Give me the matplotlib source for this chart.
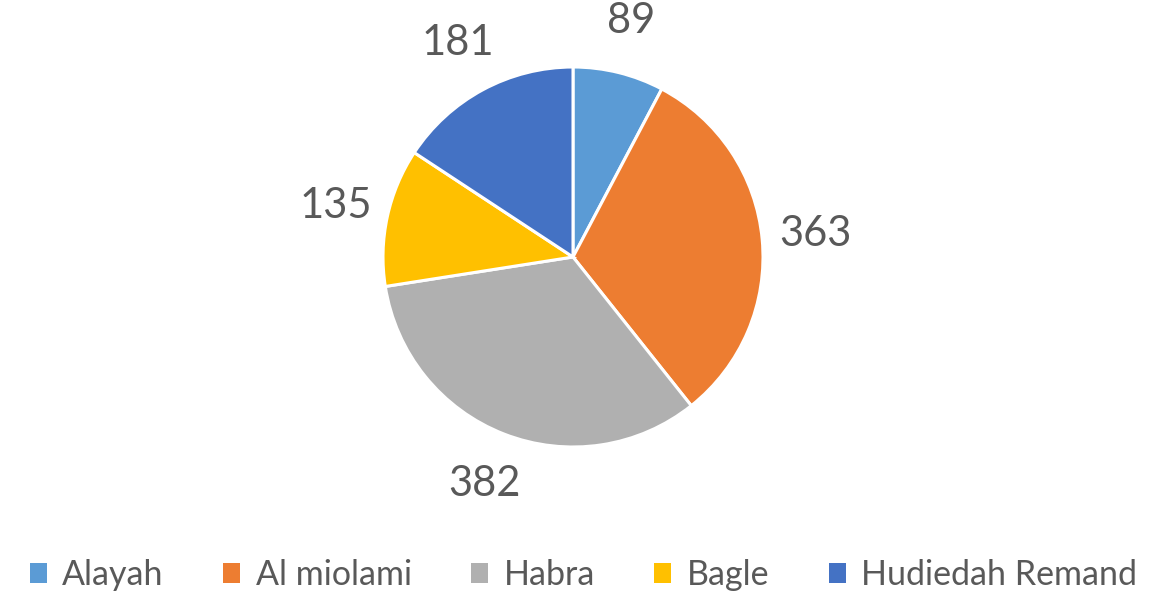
import matplotlib
matplotlib.use("Agg")
import matplotlib.pyplot as plt
from matplotlib.patches import Patch

categories = ["Alayah", "Al miolami", "Habra", "Bagle", "Hudiedah Remand"]
values = [89, 363, 382, 135, 181]
colors = ["#5B9BD5", "#ED7D31", "#B0B0B0", "#FFC000", "#4472C4"]

plt.rcParams['font.family'] = ['Lato', 'DejaVu Sans']
text_color = "#595959"

W, H = 1167, 591
fig = plt.figure(figsize=(W / 100, H / 100), dpi=100)
cx, cy, r = 573, 257, 190
ax = fig.add_axes([(cx - r) / W, (H - cy - r) / H, 2 * r / W, 2 * r / H])

wedges, texts = ax.pie(values, labels=[str(v) for v in values], colors=colors,
                       startangle=90, counterclock=False, radius=1,
                       labeldistance=1.28,
                       wedgeprops=dict(edgecolor="white", linewidth=2.2),
                       textprops=dict(color=text_color, fontsize=30))
for t in texts:
    t.set_ha("center")
    t.set_va("center")
ax.set_xlim(-1, 1)
ax.set_ylim(-1, 1)
ax.set_aspect("equal")
ax.axis("off")

handles = [Patch(facecolor=c, edgecolor="none") for c in colors]
fig.legend(handles, categories, loc="lower center", bbox_to_anchor=(0.5, -0.052),
           ncol=5, frameon=False, fontsize=24.5, labelcolor=text_color,
           handlelength=0.5, handleheight=0.5, handletextpad=0.45,
           columnspacing=1.75)

fig.savefig("out.png", dpi=100)
